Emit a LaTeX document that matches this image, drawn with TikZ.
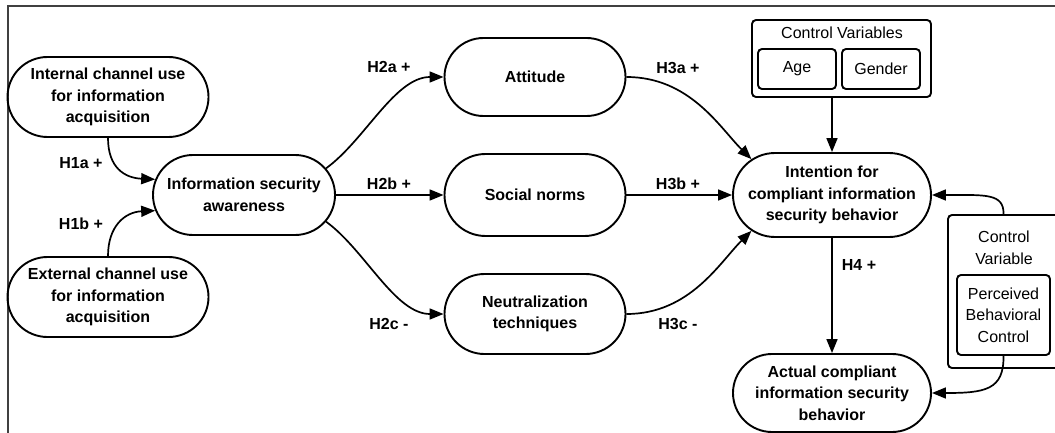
\documentclass[tikz,border=0pt]{standalone}
\usepackage{fontspec}
\setmainfont{Liberation Sans}
\usetikzlibrary{shapes.misc,arrows.meta,calc}
\begin{document}
\begin{tikzpicture}[x=1pt,y=-1pt,
  pill/.style={rounded rectangle, draw, line width=1.9pt, align=center, font=\fontsize{16pt}{21.5pt}\selectfont\bfseries, inner sep=0pt},
  cbox/.style={draw, line width=1.9pt, rounded corners=4pt, align=center, font=\fontsize{16pt}{21.5pt}\selectfont, inner sep=0pt},
  plain/.style={align=center, font=\fontsize{16pt}{21.5pt}\selectfont, inner sep=0pt},
  hlab/.style={font=\fontsize{16pt}{19pt}\selectfont\bfseries, inner sep=0pt},
  arr/.style={line width=1.7pt, -{Triangle[length=14pt,width=11pt]}},
]
\useasboundingbox (0,0) rectangle (1055,433);
\draw[line width=1.5pt, black!75] (8,433) -- (8,6) -- (1055,6);

% main nodes
\node[pill, minimum width=201pt, minimum height=80pt] (int) at (108,97) {Internal channel use\\for information\\acquisition};
\node[pill, minimum width=201pt, minimum height=80pt] (ext) at (108,297) {External channel use\\for information\\acquisition};
\node[pill, minimum width=182pt, minimum height=80pt] (isa) at (244,195) {Information security\\awareness};
\node[pill, minimum width=181pt, minimum height=78pt] (att) at (535,77) {Attitude};
\node[pill, minimum width=181pt, minimum height=82pt] (soc) at (535,195) {Social norms};
\node[pill, minimum width=181pt, minimum height=80pt] (neu) at (535,314) {Neutralization\\techniques};
\node[pill, minimum width=198pt, minimum height=84pt] (ite) at (832,195) {Intention for\\compliant information\\security behavior};
\node[pill, minimum width=198pt, minimum height=78pt] (act) at (832,393) {Actual compliant\\information security\\behavior};

% control variables (top)
\node[cbox, minimum width=179pt, minimum height=77pt] (cv) at (841.5,58.5) {};
\node[plain] (cvt) at (842,33) {Control Variables};
\node[cbox, minimum width=78pt, minimum height=40pt] (age) at (797,69) {Age};
\node[cbox, minimum width=78pt, minimum height=40pt] (gen) at (881,69) {Gender};

% control variable (right)
\node[cbox, minimum width=122pt, minimum height=153pt] (cv2) at (1009,291.5) {};
\node[plain] (cv2t) at (1004,248) {Control\\Variable};
\node[cbox, minimum width=93pt, minimum height=80pt] (pbc) at (1003.5,315) {Perceived\\Behavioral\\Control};

% connectors
\draw[arr] (int.south) .. controls (108,168) and (125,178) .. (isa.170);
\draw[arr] (ext.north) .. controls (108,226) and (125,212) .. (isa.190);
\draw[arr] (isa.18) .. controls (365,140) and (395,77) .. (att.west);
\draw[arr] (isa.east) -- (soc.west);
\draw[arr] (isa.-18) .. controls (365,250) and (395,314) .. (neu.west);
\draw[arr] (att.east) .. controls (690,77) and (720,128) .. (ite.156);
\draw[arr] (soc.east) -- (ite.west);
\draw[arr] (neu.east) .. controls (690,314) and (720,262) .. (ite.204);
\draw[arr] (ite.north |- cv.south) -- (ite.north);
\draw[arr] (ite.south) -- (act.north);
\draw[arr] (pbc.north |- cv2.north) .. controls (1004,193) and (985,195) .. (ite.east);
\draw[arr] (pbc.south) .. controls (1004,390) and (985,393) .. (act.east);

% labels
\node[hlab] (l1a) at (81,163) {H1a +};
\node[hlab] (l1b) at (81,224) {H1b +};
\node[hlab] (l2a) at (389,67) {H2a +};
\node[hlab] (l2b) at (389,184) {H2b +};
\node[hlab] (l2c) at (389,324) {H2c -};
\node[hlab] (l3a) at (678,68) {H3a +};
\node[hlab] (l3b) at (678,184) {H3b +};
\node[hlab] (l3c) at (678,324) {H3c -};
\node[hlab] (l4) at (859,265) {H4 +};
\end{tikzpicture}
\end{document}
